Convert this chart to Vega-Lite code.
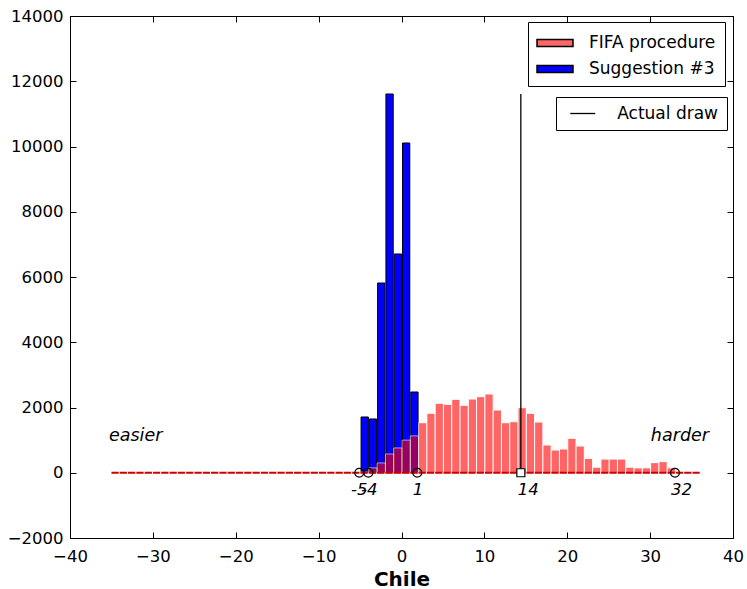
{
  "$schema": "https://vega.github.io/schema/vega-lite/v6.json",
  "width": 663,
  "height": 522,
  "autosize": {"type": "none"},
  "padding": {"left": 70, "top": 16, "right": 14, "bottom": 51},
  "background": "white",
  "config": {
    "view": {"stroke": "black", "strokeWidth": 1},
    "font": "DejaVu Sans",
    "axis": {"domain": false, "grid": false, "tickColor": "black", "tickSize": -6, "tickWidth": 1, "labelFont": "DejaVu Sans", "labelFontSize": 16.5, "labelColor": "black", "titleFont": "DejaVu Sans", "titleColor": "black"}
  },
  "datasets": {
    "sugg": [
      {"x": -5, "count": 1709}, {"x": -4, "count": 1648}, {"x": -3, "count": 5816},
      {"x": -2, "count": 11609}, {"x": -1, "count": 6705}, {"x": 0, "count": 10107},
      {"x": 1, "count": 2475}
    ],
    "fifa": [
      {"x": -5, "count": 20}, {"x": -4, "count": 150}, {"x": -3, "count": 300},
      {"x": -2, "count": 575}, {"x": -1, "count": 760}, {"x": 0, "count": 1000},
      {"x": 1, "count": 1130}, {"x": 2, "count": 1534}, {"x": 3, "count": 1822},
      {"x": 4, "count": 2128}, {"x": 5, "count": 2098}, {"x": 6, "count": 2251},
      {"x": 7, "count": 2067}, {"x": 8, "count": 2260}, {"x": 9, "count": 2332},
      {"x": 10, "count": 2414}, {"x": 11, "count": 1923}, {"x": 12, "count": 1534},
      {"x": 13, "count": 1565}, {"x": 14, "count": 1994}, {"x": 15, "count": 1822},
      {"x": 16, "count": 1555}, {"x": 17, "count": 850}, {"x": 18, "count": 697},
      {"x": 19, "count": 728}, {"x": 20, "count": 1056}, {"x": 21, "count": 820},
      {"x": 22, "count": 440}, {"x": 23, "count": 170}, {"x": 24, "count": 420},
      {"x": 25, "count": 420}, {"x": 26, "count": 420}, {"x": 27, "count": 170},
      {"x": 28, "count": 150}, {"x": 29, "count": 150}, {"x": 30, "count": 310},
      {"x": 31, "count": 340}, {"x": 32, "count": 150}, {"x": 33, "count": 30}
    ]
  },
  "layer": [
    {
      "data": {"name": "sugg"},
      "mark": {"type": "bar", "stroke": "black", "strokeWidth": 1, "binSpacing": 1},
      "encoding": {
        "x": {"field": "x", "type": "quantitative", "bin": {"step": 1, "extent": [-40, 40]},
          "scale": {"domain": [-40, 40], "nice": false, "zero": false},
          "axis": {"orient": "bottom", "values": [-40, -30, -20, -10, 0, 10, 20, 30, 40], "title": "Chile", "titleFontSize": 20, "titleFontWeight": "bold", "labelPadding": 16, "titlePadding": 5, "labelFlush": false, "format": "d"}},
        "y": {"field": "count", "aggregate": "sum", "type": "quantitative",
          "scale": {"domain": [-2000, 14000], "nice": false},
          "axis": {"orient": "left", "values": [-2000, 0, 2000, 4000, 6000, 8000, 10000, 12000, 14000], "format": "d", "title": null, "labelPadding": 13}},
        "fill": {"datum": "Suggestion #3", "type": "nominal",
          "scale": {"domain": ["FIFA procedure", "Suggestion #3"], "range": ["#ff6666", "#0000ff"]},
          "legend": {"orient": "none", "legendX": 458, "legendY": 6, "title": null, "padding": 9,
            "strokeColor": "black", "fillColor": "white", "cornerRadius": 0,
            "labelFont": "DejaVu Sans", "labelFontSize": 17, "labelColor": "black",
            "symbolType": "M-1.636,-0.307H1.636V0.307H-1.636Z", "symbolSize": 484, "symbolOffset": 6, "labelOffset": 22, "rowPadding": 6,
            "encode": {"symbols": {
              "stroke": {"condition": {"test": "datum.value === 'Suggestion #3'", "value": "black"}, "value": "#ff6666"},
              "strokeWidth": {"value": 1}}}}}
      }
    },
    {
      "data": {"name": "fifa"},
      "mark": {"type": "bar", "fill": "#ff0000", "stroke": "white", "strokeWidth": 1, "opacity": 0.6, "binSpacing": 0},
      "encoding": {
        "x": {"field": "x", "type": "quantitative", "bin": {"step": 1, "extent": [-40, 40]}, "axis": null},
        "y": {"field": "count", "aggregate": "sum", "type": "quantitative", "axis": null}
      }
    },
    {
      "data": {"values": [{"start": -35, "end": 36}]},
      "mark": {"type": "rule", "stroke": "#cc0000", "strokeWidth": 2, "strokeDash": [7.3, 1]},
      "encoding": {
        "x": {"field": "start", "type": "quantitative",
          "axis": {"orient": "top", "labels": false, "title": null, "values": [-40, -30, -20, -10, 0, 10, 20, 30, 40]}},
        "x2": {"field": "end"},
        "y": {"datum": 0, "type": "quantitative",
          "axis": {"orient": "right", "labels": false, "title": null, "values": [-2000, 0, 2000, 4000, 6000, 8000, 10000, 12000, 14000]}}
      }
    },
    {
      "data": {"values": [{"x": 14.4, "bottom": 0, "top": 11609, "series": "Actual draw"}]},
      "mark": {"type": "rule", "strokeWidth": 1.3},
      "encoding": {
        "x": {"field": "x", "type": "quantitative", "axis": null},
        "y": {"field": "bottom", "type": "quantitative", "axis": null},
        "y2": {"field": "top"},
        "stroke": {"field": "series", "type": "nominal",
          "scale": {"domain": ["Actual draw"], "range": ["black"]},
          "legend": {"orient": "none", "legendX": 486, "legendY": 81, "title": null, "padding": 8,
            "strokeColor": "black", "fillColor": "white", "cornerRadius": 0,
            "labelFont": "DejaVu Sans", "labelFontSize": 17, "labelColor": "black",
            "symbolType": "M-2,0H2", "symbolSize": 156, "symbolStrokeWidth": 1.3, "symbolStrokeColor": "black",
            "symbolOffset": 10.25, "labelOffset": 26}}
      }
    },
    {
      "data": {"values": [{"x": -5.1}, {"x": -4.0}, {"x": 1.9}, {"x": 33.0}]},
      "mark": {"type": "point", "shape": "circle", "filled": false, "stroke": "black", "strokeWidth": 1.2, "size": 80, "opacity": 1},
      "encoding": {
        "x": {"field": "x", "type": "quantitative", "axis": null},
        "y": {"datum": 0, "type": "quantitative", "axis": null}
      }
    },
    {
      "data": {"values": [{"x": 14.4}]},
      "mark": {"type": "point", "shape": "square", "filled": true, "fill": "white", "stroke": "black", "strokeWidth": 1.2, "size": 64, "opacity": 1},
      "encoding": {
        "x": {"field": "x", "type": "quantitative", "axis": null},
        "y": {"datum": 0, "type": "quantitative", "axis": null}
      }
    },
    {
      "data": {"values": [{"x": -5.1, "label": "-5"}, {"x": -3.9, "label": "-4"}, {"x": 2.0, "label": "1"}, {"x": 15.3, "label": "14"}, {"x": 33.8, "label": "32"}]},
      "mark": {"type": "text", "font": "DejaVu Sans", "fontStyle": "italic", "fontSize": 16.5, "color": "black", "baseline": "middle", "align": "center", "dy": 17},
      "encoding": {
        "x": {"field": "x", "type": "quantitative", "axis": null},
        "y": {"datum": 0, "type": "quantitative", "axis": null},
        "text": {"field": "label"}
      }
    },
    {
      "data": {"values": [{"x": -35.3, "y": 1126, "label": "easier"}]},
      "mark": {"type": "text", "font": "DejaVu Sans", "fontStyle": "italic", "fontSize": 17.5, "color": "black", "baseline": "middle", "align": "left"},
      "encoding": {
        "x": {"field": "x", "type": "quantitative", "axis": null},
        "y": {"field": "y", "type": "quantitative", "axis": null},
        "text": {"field": "label"}
      }
    },
    {
      "data": {"values": [{"x": 37.1, "y": 1126, "label": "harder"}]},
      "mark": {"type": "text", "font": "DejaVu Sans", "fontStyle": "italic", "fontSize": 17.5, "color": "black", "baseline": "middle", "align": "right"},
      "encoding": {
        "x": {"field": "x", "type": "quantitative", "axis": null},
        "y": {"field": "y", "type": "quantitative", "axis": null},
        "text": {"field": "label"}
      }
    }
  ]
}
